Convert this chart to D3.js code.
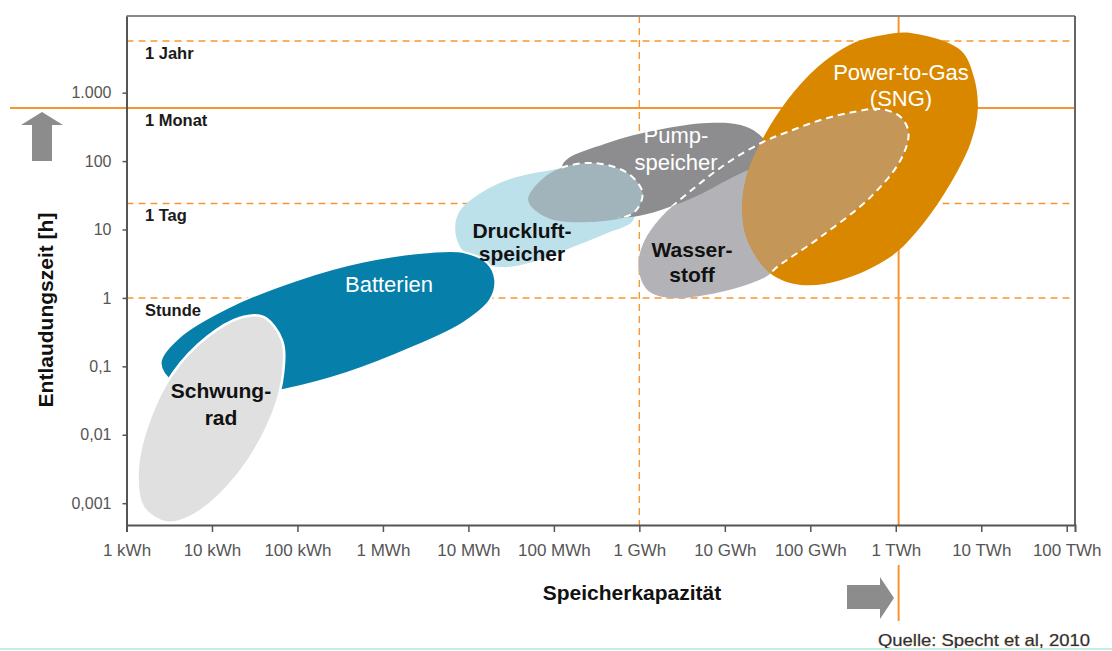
<!DOCTYPE html>
<html><head><meta charset="utf-8">
<script src="https://cdn.jsdelivr.net/npm/d3@7"></script>
<style>
body{margin:0;background:#fff}
svg{display:block}
text{font-family:"Liberation Sans",Arial,sans-serif}
</style>
</head><body>
<svg id="chart" width="1112" height="651"></svg>
<script>
// ---------- data ----------
const xTicks = [1,1e1,1e2,1e3,1e4,1e5,1e6,1e7,1e8,1e9,1e10,1e11];            // kWh
const xTickLabels = ["1 kWh","10 kWh","100 kWh","1 MWh","10 MWh","100 MWh","1 GWh","10 GWh","100 GWh","1 TWh","10 TWh","100 TWh"];
const yTicks = [0.001,0.01,0.1,1,10,100,1000];                                 // h
const yTickLabels = ["0,001","0,01","0,1","1","10","100","1.000"];
const xExtent = [1, 1.25e11];
const yExtent = [4.8e-4, 13200];

const timeLabels = ["1 Jahr","1 Monat","1 Tag","Stunde"];
const timeHours  = [5700, 597, 24, 1];
const timeSolid  = [false, true, false, false];
const capValues  = [1e6, 1.08e9];   // kWh
const capSolid   = [false, true];

// outlines of the storage regions: [kWh, h]
const druckluftPts = [[7000,10.9],[8000,19],[13800,34],[28500,53],[69000,69],[204000,79],[785000,38],[850000,13.8],[423000,8.9],[169000,5.6],[69000,3.6],[28500,2.84],[13800,3.25],[8000,5.6]];
const batterienPts = [[2.5,0.112],[4.2,0.27],[16,0.74],[99,1.83],[590,3.4],[3600,4.7],[8700,4.7],[16600,3.25],[20600,1.83],[18000,0.94],[8700,0.43],[2260,0.19],[380,0.08],[68,0.045],[12,0.032],[3.7,0.054]];
const schwungradPts = [[40,0.53],[66,0.24],[68,0.08],[52,0.021],[21,0.0028],[6.7,0.00072],[3.0,0.00052],[1.56,0.00088],[1.36,0.0034],[1.9,0.018],[3.5,0.08],[8.8,0.27],[21,0.51]];
const wasserstoffPts = [[975000,2.84],[1.24e6,1.31],[2.3e6,1.0],[8.9e6,1.22],[3e7,2.03],[4.1e7,2.84],[1.32e8,7.8],[5.1e8,30],[1.14e9,104],[1.41e9,258],[1.14e9,441],[6.6e8,578],[3.2e8,522],[1.32e8,399],[5.4e7,266],[2.8e7,190],[1.07e7,94],[3.7e6,34],[1.77e6,14.8],[1.12e6,6.4]];
const pumpPts = [[126000,88],[423000,184],[1.63e6,285],[6.3e6,360],[1.53e7,337],[2.4e7,258],[3.4e7,145],[2.6e7,94],[1.26e7,59],[3.7e6,27],[850000,15.3],[350000,16],[178000,27]];
const overlapPts = [[50000,27],[91000,67],[267000,94],[724000,67],[1.09e6,34],[850000,17.5],[267000,12.9],[84000,14.8]];
const ptgPts = [[1.5e9,7450],[5.7e9,4200],[8.2e9,1690],[9.1e9,558],[7.5e9,184],[4.4e9,48],[1.95e9,10.9],[8.7e8,4.0],[2.3e8,1.83],[7.7e7,1.55],[3.4e7,2.3],[1.84e7,7.0],[1.6e7,21],[1.84e7,67],[2.84e7,225],[5.4e7,780],[1.22e8,2370],[3.2e8,5300],[7.2e8,6950]];

const xTitle = "Speicherkapazität";
const yTitle = "Entlaudungszeit [h]";
const source = "Quelle: Specht et al, 2010";

// ---------- drawing ----------
const svg = d3.select("#chart");
const x = d3.scaleLog().domain(xExtent).range([126.5, 1075]);
const y = d3.scaleLog().domain(yExtent).range([525, 16]);
const outline = d3.line().x(d => x(d[0])).y(d => y(d[1])).curve(d3.curveCatmullRomClosed.alpha(0.5));

const defs = svg.append("defs");
defs.append("clipPath").attr("id","clipPump").append("path").attr("d", outline(pumpPts));
defs.append("clipPath").attr("id","clipPtG").append("path").attr("d", outline(ptgPts));
const cu = defs.append("clipPath").attr("id","clipPumpPtG");
cu.append("path").attr("d", outline(pumpPts));
cu.append("path").attr("d", outline(ptgPts));

const orange = "#f7962e";
const [x0, x1] = x.range();
const [yb, yt] = y.range();

// reference lines (under the shapes)
timeHours.forEach((h, i) => {
  svg.append("line")
    .attr("x1", timeSolid[i] ? 10 : x0).attr("x2", x1)
    .attr("y1", y(h)).attr("y2", y(h))
    .attr("stroke", orange).attr("stroke-width", timeSolid[i] ? 2 : 1.4)
    .attr("stroke-dasharray", timeSolid[i] ? null : "7,5");
  svg.append("text").attr("x", 145).attr("y", y(h) + 18)
    .attr("font-size", 16.5).attr("font-weight", "bold").attr("fill", "#1a1a1a")
    .text(timeLabels[i]);
});
capValues.forEach((v, i) => {
  svg.append("line")
    .attr("x1", x(v)).attr("x2", x(v)).attr("y1", yt).attr("y2", yb)
    .attr("stroke", orange).attr("stroke-width", capSolid[i] ? 2 : 1.4)
    .attr("stroke-dasharray", capSolid[i] ? null : "7,5");
});
// continuation of the 1 TWh line beside the arrow
svg.append("line").attr("x1", x(capValues[1])).attr("x2", x(capValues[1]))
  .attr("y1", 565).attr("y2", 621).attr("stroke", orange).attr("stroke-width", 2);

// shapes
const shape = (pts, fill, extra) => {
  const p = svg.append("path").attr("d", outline(pts)).attr("fill", fill);
  if (extra) extra(p);
  return p;
};
shape(druckluftPts, "#bde1eb");
shape(batterienPts, "#0680aa", p => p.attr("stroke", "#fff").attr("stroke-width", 2));
shape(schwungradPts, "#e0e0e0", p => p.attr("stroke", "#fff").attr("stroke-width", 2.5));
shape(wasserstoffPts, "#b3b3b7");
shape(pumpPts, "#8d8d90");
shape(overlapPts, "#a1b4bc");
shape(ptgPts, "#da8700");
shape(wasserstoffPts, "#c49658", p => p.attr("clip-path", "url(#clipPtG)"));
shape(wasserstoffPts, "none", p => p.attr("stroke", "#fff").attr("stroke-width", 2)
  .attr("stroke-dasharray", "7,5").attr("clip-path", "url(#clipPumpPtG)"));
shape(overlapPts, "none", p => p.attr("stroke", "#fff").attr("stroke-width", 2)
  .attr("stroke-dasharray", "7,5").attr("clip-path", "url(#clipPump)"));

// shape labels
const label = (lines, cx, y0, lh, color, bold) => {
  const t = svg.append("text").attr("text-anchor", "middle")
    .attr("font-size", bold ? 21 : 22).attr("font-weight", bold ? "bold" : "normal")
    .attr("fill", color);
  lines.forEach((s, i) => t.append("tspan").attr("x", cx).attr("y", y0 + i * lh).text(s));
};
label(["Batterien"], 389, 292, 0, "#fff", false);
label(["Schwung-", "rad"], 221, 398, 27, "#111", true);
label(["Druckluft-", "speicher"], 522, 238, 23, "#111", true);
label(["Pump-", "speicher"], 676, 143, 27, "#fff", false);
label(["Wasser-", "stoff"], 692, 257, 25, "#111", true);
label(["Power-to-Gas", "(SNG)"], 901, 80, 26, "#fff", false);

// frame
svg.append("line").attr("x1", x0).attr("x2", x1).attr("y1", yt).attr("y2", yt)
  .attr("stroke", "#8a8a8a").attr("stroke-width", 2);
svg.append("line").attr("x1", x1).attr("x2", x1).attr("y1", yt).attr("y2", yb)
  .attr("stroke", "#666").attr("stroke-width", 2);

// axes
const gx = svg.append("g").attr("transform", `translate(0,${yb})`)
  .call(d3.axisBottom(x).tickValues(xTicks).tickFormat((d, i) => xTickLabels[i])
    .tickSize(7).tickSizeOuter(7).tickPadding(12));
const gy = svg.append("g").attr("transform", `translate(${x0},0)`)
  .call(d3.axisLeft(y).tickValues(yTicks).tickFormat((d, i) => yTickLabels[i])
    .tickSize(4).tickSizeOuter(0).tickPadding(11));
[gx, gy].forEach(g => {
  g.attr("font-family", null).attr("font-size", null);
  g.select(".domain").attr("stroke", "#555").attr("stroke-width", 2);
  g.selectAll(".tick line").attr("stroke", "#555").attr("stroke-width", 1.5);
  g.selectAll(".tick text").attr("fill", "#555");
});
gx.selectAll(".tick text").attr("font-size", 17);
gy.selectAll(".tick text").attr("font-size", 16);

// axis titles
svg.append("text").attr("x", 632).attr("y", 600).attr("text-anchor", "middle")
  .attr("font-size", 21).attr("font-weight", "bold").attr("fill", "#111").text(xTitle);
svg.append("text").attr("transform", "translate(53,310) rotate(-90)").attr("text-anchor", "middle")
  .attr("font-size", 21).attr("font-weight", "bold").attr("fill", "#111").text(yTitle);

// arrows
svg.append("polygon").attr("fill", "#8c8c8c")
  .attr("points", "32,161 52,161 52,125 63,125 42,112 21,125 32,125");
svg.append("polygon").attr("fill", "#8c8c8c")
  .attr("points", "847,585 880,585 880,577 894,598 880,619 880,609 847,609");

// source
svg.append("text").attr("x", 878).attr("y", 646)
  .attr("font-family", "Lato, 'Open Sans', sans-serif").attr("font-size", 17)
  .attr("textLength", 212).attr("lengthAdjust", "spacingAndGlyphs")
  .attr("fill", "#1f3157").attr("stroke", "#e9b040").attr("stroke-width", 0.6)
  .attr("paint-order", "stroke").text(source);
svg.append("line").attr("x1", 0).attr("x2", 1112).attr("y1", 649).attr("y2", 649)
  .attr("stroke", "#c4ede6").attr("stroke-width", 2);
</script>
</body></html>
